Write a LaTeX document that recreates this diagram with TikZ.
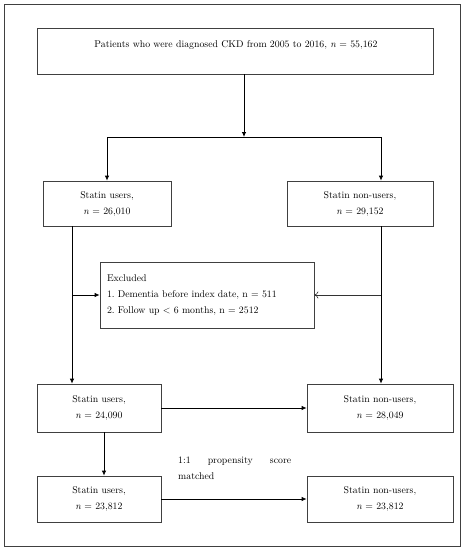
\documentclass[tikz,border=0pt]{standalone}
\usetikzlibrary{arrows.meta}
\begin{document}
\frenchspacing
\begin{tikzpicture}[x=1pt,y=-1pt,
  every node/.style={font=\fontsize{9.8}{16}\selectfont},
  box/.style={draw=black!75, line width=0.7pt, inner sep=0pt, align=center},
  arr/.style={draw=black, line width=0.8pt, -{Latex[length=5pt,width=4.5pt]}},
  openarr/.style={draw=black!80, line width=0.6pt, -{To[length=4pt,width=7pt]}},
  ln/.style={draw=black, line width=0.8pt}]
\useasboundingbox (0,0) rectangle (464,550);
\draw[draw=black!75, line width=0.8pt] (4,4) rectangle (460,546);
% boxes
\node[box, minimum width=396pt, minimum height=46pt] (top) at (235,51) {};
\node[anchor=base] (toptext) at (236,47) {\frenchspacing Patients who were diagnosed CKD from 2005 to 2016, \textit{n} = 55,162};
\node[box, minimum width=128pt, minimum height=45pt] (u1) at (107,203.5) {Statin users,\\ \textit{n} = 26,010};
\node[box, minimum width=146pt, minimum height=45pt] (n1) at (360,203.5) {Statin non-users,\\ \textit{n} = 29,152};
\node[box, minimum width=214pt, minimum height=66pt, text width=200pt, align=left] (ex) at (207,295)
  {\frenchspacing Excluded\\1. Dementia before index date, n = 511\\2. Follow up < 6 months, n = 2512};
\node[box, minimum width=124pt, minimum height=48pt] (u2) at (99,408) {Statin users,\\ \textit{n} = 24,090};
\node[box, minimum width=146pt, minimum height=48pt] (n2) at (380,408) {Statin non-users,\\ \textit{n} = 28,049};
\node[box, minimum width=124pt, minimum height=46pt] (u3) at (99,499) {Statin users,\\ \textit{n} = 23,812};
\node[box, minimum width=146pt, minimum height=46pt] (n3) at (380,499) {Statin non-users,\\ \textit{n} = 23,812};
\node[anchor=north west, inner sep=0pt, text width=113pt, align=justify] (psm) at (178,457)
  {\hyphenpenalty=10000 1:1 propensity score matched};
% coordinates
\coordinate (split) at (244,137);
\coordinate (lx) at (72,0);
\coordinate (rx) at (381,0);
\coordinate (dx) at (104,0);
% connectors
\draw[arr] (top.south -| split) -- (split);
\draw[arr] (split) -| (u1.north);
\draw[arr] (split) -| (n1.north -| rx);
\draw[arr] (u1.south -| lx) -- (u2.north -| lx);
\draw[arr] (ex.west -| lx) -- (ex.west);
\draw[arr] (n1.south -| rx) -- (n2.north -| rx);
\draw[openarr] (ex.east -| rx) -- (ex.east);
\draw[arr] (u2) -- (n2);
\draw[arr] (u2.south -| dx) -- (u3.north -| dx);
\draw[arr] (u3) -- (n3);
\end{tikzpicture}
\end{document}
